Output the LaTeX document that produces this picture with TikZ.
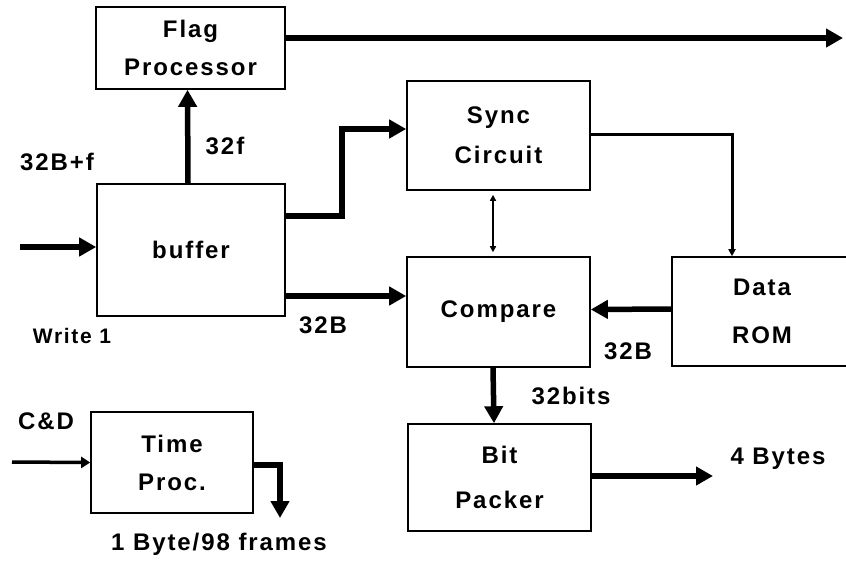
\documentclass[tikz,border=0pt]{standalone}
\usepackage{fontspec}
\setmainfont{Liberation Sans}[LetterSpace=8]
\usepackage{tikz}
\usetikzlibrary{
  arrows.meta,
  positioning
}

\begin{document}
\begin{tikzpicture}[
  x=1pt, y=-1pt,
  font=\fontsize{24}{38}\selectfont\bfseries,
  block/.style={
    draw, line width=1.6pt,
    align=center, inner sep=0pt
  },
  bus/.style={line width=5.5pt, -{Triangle[length=17pt,width=18pt]}},
  wire/.style={line width=3.5pt, -{Triangle[length=9pt,width=11pt]}},
  ctrl/.style={line width=1.6pt, {Triangle[length=6pt,width=6pt]}-{Triangle[length=6pt,width=6pt]},
    shorten <=4pt, shorten >=4pt},
  tag/.style={inner sep=0pt}
]
\clip (0,0) rectangle (846,563);

% Blocs
\node[block, minimum width=189, minimum height=82] (flag) at (190.5,48) {Flag\\Processor};
\node[block, minimum width=188, minimum height=132] (buffer) at (191,250) {buffer};
\node[block, minimum width=183, minimum height=109] (sync) at (498.5,135.5) {Sync\\[2pt]Circuit};
\node[block, minimum width=183, minimum height=110] (compare) at (498.5,312) {Compare};
\node[block, minimum width=200, minimum height=109] (rom) at (772,311.5)
  {\hspace*{-20pt}Data\\[10pt]\hspace*{-20pt}ROM};
\node[block, minimum width=183, minimum height=107] (packer) at (499.5,477.5) {Bit\\[7pt]Packer};
\node[block, minimum width=162, minimum height=101] (time) at (172,462.5) {Time\\Proc.};

% Points libres
\coordinate (in1) at (20,247);
\coordinate (in2) at (12,462);
\coordinate (out1) at (843,38);
\coordinate (out2) at (713,479);
\coordinate (out3) at (280,518);
\coordinate (b1) at (342,216);
\coordinate (b2) at (342,129);
\coordinate (c1) at (0,296);

% Liaisons
\draw[bus] (in1) -- (in1 -| buffer.west);
\draw[bus] ([xshift=-3pt]buffer.north) -- ([xshift=-3pt]flag.south);
\draw[bus] (out1 -| flag.east) -- (out1);
\draw[bus] (b1 -| buffer.east) -- (b1) -- (b2) -- (b2 -| sync.west);
\draw[line width=3pt, -{Triangle[length=7pt,width=7pt]}] ([yshift=1.5pt]sync.east) -| ([xshift=-40pt]rom.north);
\draw[ctrl] ([xshift=-5.5pt]sync.south) -- ([xshift=-5.5pt]compare.north);
\draw[bus] (c1 -| buffer.east) -- (c1 -| compare.west);
\draw[bus] ([yshift=2.5pt]rom.west) -- ([yshift=2.5pt]compare.east);
\draw[bus] ([xshift=-5.5pt]compare.south) -- ([xshift=-5.5pt]packer.north);
\draw[bus] ([yshift=1.5pt]packer.east) -- ([yshift=1.5pt]packer.east -| out2);
\draw[wire] (in2) -- (time.west);
\draw[bus] ([yshift=-2.5pt]time.east) -| (out3);

% Etiquettes
\node[tag] (lin) at (57,162) {32B+f};
\node[tag, font=\fontsize{21}{22}\selectfont\bfseries] (lwrite) at (72,336) {Write 1};
\node[tag] (l32f) at (225,146) {32f};
\node[tag] (l32b) at (323,325) {32B};
\node[tag] (lrom) at (628,351) {32B};
\node[tag] (lbits) at (571,396) {32bits};
\node[tag] (lbytes) at (778,459) {4 Bytes};
\node[tag] (lcd) at (46,421) {C\&D};
\node[tag] (lframes) at (219,544) {1 Byte/98 frames};
\end{tikzpicture}
\end{document}
